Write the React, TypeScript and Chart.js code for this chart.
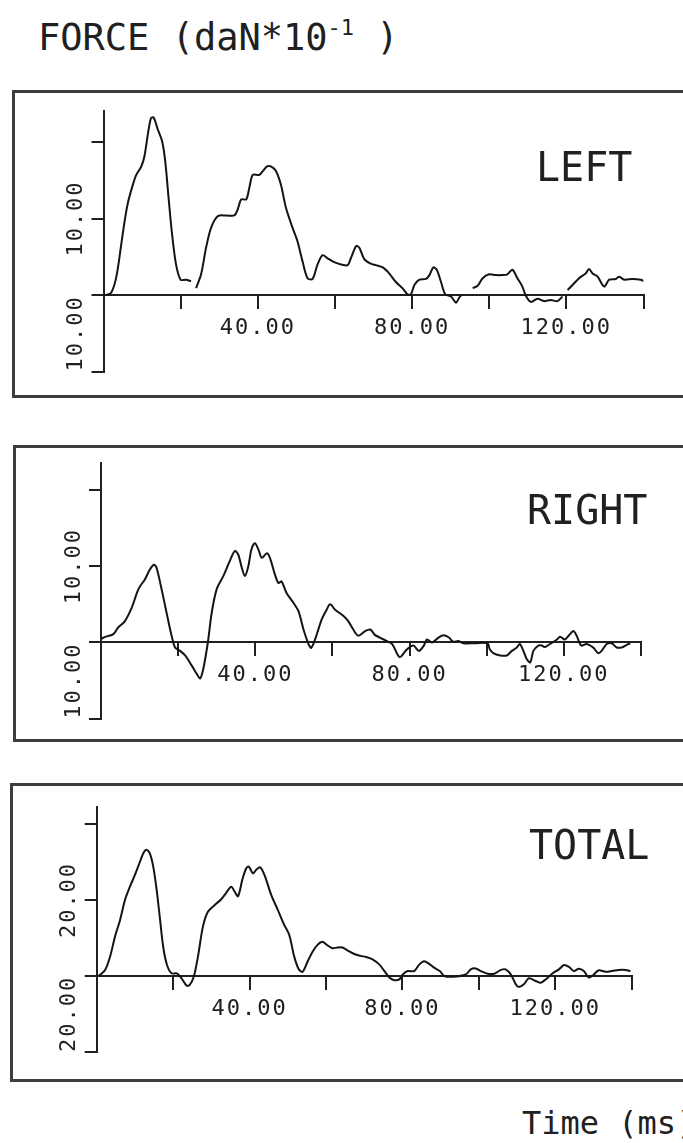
import React, { useEffect, useRef } from "react";
import { Chart, registerables } from "chart.js";

Chart.register(...registerables);

// ---------- data (time in ms, force in daN*10^-1) ----------
const X_TICK_LABELS = ["", "", "40.00", "", "80.00", "", "120.00", ""];

const LEFT_T = [0, 0.7, 2, 3.3, 4.6, 5.4, 6.3, 7.6, 8.5, 9.8,
  10.6, 11.5, 12.3, 13, 14.1, 15.2, 16, 16.8, 17.7, 18.8,
  20, 21.4, 22.7, 23.3, 24, 25.3, 26.6, 27.9, 29.6, 31.8,
  33.9, 34.8, 35.7, 37, 37.8, 38.7, 40.4, 41.3, 42.4, 43.4,
  44.7, 46, 47.3, 49, 50.3, 51.6, 52.9, 54.2, 55.5, 56.8,
  58.1, 59.8, 61.6, 63.3, 64.2, 65.5, 66.3, 67.6, 69.3, 70.6,
  72.4, 74.1, 75.8, 77.5, 78.8, 79.7, 80.6, 81.9, 83.6, 84.5,
  85.5, 86.4, 87.5, 88.6, 90.1, 91.4, 92.2, 92.8, 94, 95.7,
  97, 98.3, 100, 101.7, 103.4, 104.7, 106, 107.3, 108.6, 109.5,
  110.8, 112.5, 114.2, 116, 117.7, 119, 119.7, 120.3, 121.6, 123.3,
  125, 125.9, 126.8, 128.1, 129.8, 131.1, 132.8, 133.7, 135, 137.1,
  139.3, 140];
const LEFT_F = [0, 0, 0.3, 2.3, 6.6, 9.4, 12, 14.4, 15.7, 16.8,
  18.1, 21, 23.1, 23.2, 21.6, 20.1, 17.5, 13.1, 8.3, 4,
  2, 2, 1.8, null, 0.9, 2.7, 6.2, 8.8, 10.3, 10.4,
  10.4, 11.2, 12.5, 12.5, 14, 15.7, 15.7, 16.2, 16.8, 16.8,
  16.2, 14.4, 11.4, 8.8, 7, 4.4, 2.2, 2.1, 4, 5.2,
  4.8, 4.3, 4, 3.9, 4.9, 6.4, 6.2, 4.7, 4.1, 3.9,
  3.6, 2.8, 1.7, 0.9, 0.1, 0.1, 1.3, 2, 2.1, 2.6,
  3.6, 3.3, 1.7, 0.1, -0.2, -1, -0.35, 0, null, 0.9,
  1.2, 2.2, 2.7, 2.6, 2.6, 2.7, 3.3, 2.2, 1.1, -0.1,
  -0.9, -0.5, -0.8, -0.65, -0.8, -0.2, null, 0.65, 1.3, 2.2,
  2.8, 3.4, 2.8, 2.4, 1.1, 2, 2.1, 2.4, 2, 2.1,
  2, 1.8];

const RIGHT_T = [0, 1.5, 3.2, 4.5, 6.2, 8, 9.7, 11.4, 12.7, 13.7,
  14.4, 15.7, 17, 18.3, 19.2, 20.5, 21.8, 23.5, 24.8, 25.7,
  26.5, 27.7, 28.7, 30, 31.7, 33.4, 34.7, 35.6, 36.5, 37.3,
  38.2, 39, 39.9, 40.8, 41.7, 43, 43.8, 45.1, 46, 46.8,
  48.1, 49.9, 51.2, 52.5, 53.8, 54.5, 55.5, 57.2, 58.5, 59.4,
  60.7, 62.8, 64.1, 65.4, 66.7, 68.5, 69.8, 71, 72.3, 74,
  75.5, 77.4, 79.3, 81, 82.4, 83.7, 84.5, 85.8, 87.5, 88.8,
  90.2, 91.3, 92.7, 94, 97, 100.2, 100.8, 101.7, 103.5, 105.2,
  106.5, 107.8, 108.6, 109.5, 110.4, 111.3, 112.1, 113.4, 114.3, 115.1,
  116.4, 118.2, 119, 120.3, 121.6, 122.5, 123.3, 124.5, 125.9, 127.6,
  128.9, 129.8, 131.1, 132.4, 133.7, 135, 136.3, 137.2];
const RIGHT_F = [0.5, 0.8, 1.1, 2, 2.8, 4.6, 7, 8.3, 9.6, 10.2,
  9.8, 7, 3.9, 0.9, -0.65, -1.1, -1.7, -3, -4.1, -4.7,
  -3.5, 0, 3.9, 7, 8.7, 10.7, 12, 11.5, 9.8, 8.7,
  10, 12.2, 13, 12.2, 11.1, 11.7, 11.1, 8.9, 7.8, 8,
  6.5, 5.2, 4.1, 1.7, -0.2, -0.7, 0.4, 3, 4.3, 5,
  4.3, 3.5, 2.8, 1.7, 0.9, 1.5, 1.7, 1, 0.65, 0.2,
  -0.2, -1.9, -0.9, -0.4, -1.1, -0.4, 0.4, 0, 0.65, 0.95,
  0.65, 0.1, 0.2, -0.1, -0.1, -0.1, -0.9, -1.4, -1.7, -1.7,
  -1.1, -0.65, -0.2, -1.1, -2.2, -2.6, -1.1, -0.4, -0.4, -0.6,
  -0.2, 0.4, 0.75, 0.4, 1.1, 1.5, 0.9, -0.4, -0.2, -0.65,
  -1.4, -1.1, -0.2, -0.1, -0.65, -0.65, -0.3, -0.1];

const TOTAL_T = [0, 0.4, 2.2, 3.5, 4.8, 6.1, 7.4, 8.7, 10, 11.3,
  12.2, 13, 13.9, 14.8, 15.7, 16.5, 17.4, 18.4, 19.6, 21,
  22.2, 23.5, 24.3, 25.4, 26.5, 27.8, 29.1, 30.9, 32.6, 33.9,
  35.2, 36.1, 37, 38.1, 39.1, 39.8, 40.9, 41.7, 42.8, 43.9,
  45.7, 47.4, 49.1, 50.4, 51.7, 52.9, 53.9, 55.2, 56.5, 57.8,
  59.1, 60.2, 61.7, 63, 64.3, 65.7, 67.4, 69.1, 70.5, 72.2,
  74, 75.3, 76.6, 77.9, 79.2, 80.1, 81.4, 83.1, 84.4, 85.7,
  87, 88.3, 89.8, 91, 93.1, 96.6, 97.9, 99.2, 100.5, 102.3,
  104, 105.8, 107, 108.4, 109.7, 110.5, 111.8, 113.1, 114.9, 116.2,
  117.5, 119.2, 121, 122.3, 123.6, 124.9, 126.2, 127.5, 128.8, 130.1,
  131.4, 133.2, 134.9, 136.6, 138.4, 139.7];
const TOTAL_F = [0, 0, 1.6, 5.1, 10.4, 14.7, 20, 23.5, 26.6, 30,
  32.3, 33.2, 32.3, 28.8, 22.6, 15.6, 7.7, 2.9, 0.7, 0.7,
  -0.6, -2.5, -2.4, -0.2, 5.1, 13, 16.9, 18.7, 20.2, 21.9,
  23.5, 22.2, 21, 25.3, 28.3, 28.8, 27, 27.9, 28.6, 26.6,
  21.3, 17.4, 13.4, 10.8, 5.1, 1.75, 1.1, 3.8, 6.4, 8.2,
  9, 8.2, 7.3, 7.5, 7.5, 6.7, 5.8, 5.3, 5, 4.4,
  3, 1.3, -0.4, -1.1, -0.9, 0.4, 1.3, 1.3, 3, 3.9,
  3.2, 2.2, 1.3, 0, -0.2, 0.4, 1.75, 2, 1.3, 0.6,
  0.6, 1.6, 1.75, 0.4, -2.2, -2.9, -2.2, -0.6, -1.3, -1.75,
  -0.9, 0.6, 1.75, 2.9, 2.4, 1.3, 1.9, 1.3, -0.4, 0.4,
  1.5, 1.1, 1.3, 1.6, 1.6, 1.3];

const LEFT_Y_TICKS = [-10, 0, 10, 20];
const LEFT_Y_LABEL_VALUES = [10, -10];
const LEFT_Y_LABELS = ["10.00", "10.00"];

const RIGHT_Y_TICKS = [-10, 0, 10, 20];
const RIGHT_Y_LABEL_VALUES = [10, -10];
const RIGHT_Y_LABELS = ["10.00", "10.00"];

const TOTAL_Y_TICKS = [-20, 0, 20, 40];
const TOTAL_Y_LABEL_VALUES = [20, -20];
const TOTAL_Y_LABELS = ["20.00", "20.00"];

// ---------- layout ----------
const W = 683;
const FONT = '"DejaVu Sans Mono", "Liberation Mono", monospace';
const INK = "#202020";
const TICK_FONT_SIZE = 22;

type PanelCfg = {
  name: string;
  nameLeft: number;
  nameTop: number;
  box: { left: number; top: number; bottom: number };
  areaLeft: number;
  areaRight: number;
  y0: number;
  ppu: number;
  yMin: number;
  yMax: number;
  t: number[];
  f: (number | null)[];
  yTicks: number[];
  yLabelValues: number[];
  yLabels: string[];
};

const PANELS: PanelCfg[] = [
  {
    name: "LEFT", nameLeft: 536, nameTop: 147,
    box: { left: 12, top: 90, bottom: 398 },
    areaLeft: 103.5, areaRight: 643.5, y0: 295, ppu: 7.65, yMin: -10, yMax: 24,
    t: LEFT_T, f: LEFT_F, yTicks: LEFT_Y_TICKS,
    yLabelValues: LEFT_Y_LABEL_VALUES, yLabels: LEFT_Y_LABELS,
  },
  {
    name: "RIGHT", nameLeft: 527, nameTop: 490,
    box: { left: 13, top: 445, bottom: 742 },
    areaLeft: 101, areaRight: 641, y0: 642.5, ppu: 7.63, yMin: -10, yMax: 23.5,
    t: RIGHT_T, f: RIGHT_F, yTicks: RIGHT_Y_TICKS,
    yLabelValues: RIGHT_Y_LABEL_VALUES, yLabels: RIGHT_Y_LABELS,
  },
  {
    name: "TOTAL", nameLeft: 529, nameTop: 825,
    box: { left: 10, top: 783, bottom: 1082 },
    areaLeft: 96.7, areaRight: 631.6, y0: 976, ppu: 3.8, yMin: -20, yMax: 44.5,
    t: TOTAL_T, f: TOTAL_F, yTicks: TOTAL_Y_TICKS,
    yLabelValues: TOTAL_Y_LABEL_VALUES, yLabels: TOTAL_Y_LABELS,
  },
];

const plotterText = {
  id: "plotterText",
  beforeDraw(chart: any) {
    chart.ctx.letterSpacing = "2px";
  },
  afterDraw(chart: any, _args: any, opts: any) {
    const ctx = chart.ctx;
    const y = chart.scales.y;
    const area = chart.chartArea;
    ctx.save();
    ctx.font = `${TICK_FONT_SIZE}px ${FONT}`;
    ctx.fillStyle = INK;
    ctx.textBaseline = "middle";
    const values: number[] = opts.values || [];
    const texts: string[] = opts.texts || [];
    values.forEach((v, i) => {
      const py = y.getPixelForValue(v);
      ctx.save();
      ctx.translate(area.left - opts.offset, py);
      ctx.rotate(-Math.PI / 2);
      ctx.textAlign = v === y.min ? "left" : "center";
      ctx.fillText(texts[i], 0, 0);
      ctx.restore();
    });
    ctx.restore();
    ctx.letterSpacing = "0px";
  },
};

function Panel({ cfg }: { cfg: PanelCfg }) {
  const ref = useRef<HTMLCanvasElement | null>(null);
  const h = cfg.box.bottom - cfg.box.top;

  useEffect(() => {
    const canvas = ref.current;
    if (!canvas) return;
    const areaTop = cfg.y0 - cfg.yMax * cfg.ppu;
    const areaBottom = cfg.y0 - cfg.yMin * cfg.ppu;
    const points = cfg.t.map((t, i) => ({ x: t, y: cfg.f[i] }));
    const chart = new Chart(canvas, {
      type: "line",
      data: {
        datasets: [
          {
            data: points as any,
            borderColor: "#141414",
            borderWidth: 2,
            pointRadius: 0,
            tension: 0.3,
            spanGaps: false,
            fill: false,
          },
        ],
      },
      options: {
        responsive: false,
        animation: false,
        devicePixelRatio: 1,
        events: [],
        layout: {
          padding: {
            left: cfg.areaLeft,
            right: W - cfg.areaRight,
            top: areaTop - cfg.box.top,
            bottom: cfg.box.bottom - areaBottom,
          },
        },
        plugins: {
          legend: { display: false },
          tooltip: { enabled: false },
          plotterText: {
            values: cfg.yLabelValues,
            texts: cfg.yLabels,
            offset: 27,
          },
        } as any,
        scales: {
          x: {
            type: "linear",
            min: 0,
            max: 140,
            position: { y: 0 } as any,
            ticks: {
              stepSize: 20,
              autoSkip: false,
              minRotation: 0,
              maxRotation: 0,
              padding: 7,
              color: INK,
              font: { family: FONT, size: TICK_FONT_SIZE },
              callback: (_v: any, i: number) => X_TICK_LABELS[i] ?? "",
            },
            grid: {
              drawOnChartArea: false,
              drawTicks: true,
              tickLength: 13,
              color: INK,
              lineWidth: 2,
            },
            border: { display: true, color: INK, width: 2 },
          },
          y: {
            type: "linear",
            min: cfg.yMin,
            max: cfg.yMax,
            position: "left",
            afterFit: (s: any) => {
              s.width = 0;
            },
            afterBuildTicks: (s: any) => {
              s.ticks = cfg.yTicks.map((v) => ({ value: v }));
            },
            ticks: { display: false },
            grid: {
              drawOnChartArea: false,
              drawTicks: true,
              tickLength: 12,
              color: INK,
              lineWidth: 2,
            },
            border: { display: true, color: INK, width: 2 },
          },
        },
      },
      plugins: [plotterText],
    });
    return () => chart.destroy();
  }, [cfg]);

  return (
    <>
      <div
        style={{
          position: "absolute",
          left: cfg.box.left,
          top: cfg.box.top,
          width: 720 - cfg.box.left,
          height: h,
          border: "3px solid #3e3e3e",
          boxSizing: "border-box",
        }}
      />
      <canvas
        ref={ref}
        width={W}
        height={h}
        style={{ position: "absolute", left: 0, top: cfg.box.top, width: W, height: h }}
      />
      <div
        style={{
          position: "absolute",
          left: cfg.nameLeft,
          top: cfg.nameTop,
          fontFamily: FONT,
          fontSize: 40,
          lineHeight: "40px",
          color: INK,
          whiteSpace: "nowrap",
        }}
      >
        {cfg.name}
      </div>
    </>
  );
}

export default function App() {
  return (
    <div
      style={{
        position: "absolute",
        left: 0,
        top: 0,
        width: W,
        height: 1143,
        overflow: "hidden",
        background: "#fff",
      }}
    >
      <div
        style={{
          position: "absolute",
          left: 38,
          top: 19,
          fontFamily: FONT,
          fontSize: 37,
          lineHeight: "37px",
          color: INK,
          whiteSpace: "nowrap",
        }}
      >
        FORCE (daN*10
        <span style={{ fontSize: 22, position: "relative", top: -15 }}>-1</span> )
      </div>
      {PANELS.map((p) => (
        <Panel key={p.name} cfg={p} />
      ))}
      <div
        style={{
          position: "absolute",
          left: 522,
          top: 1107,
          fontFamily: FONT,
          fontSize: 32,
          lineHeight: "32px",
          color: INK,
          whiteSpace: "nowrap",
        }}
      >
        Time (ms)
      </div>
    </div>
  );
}
